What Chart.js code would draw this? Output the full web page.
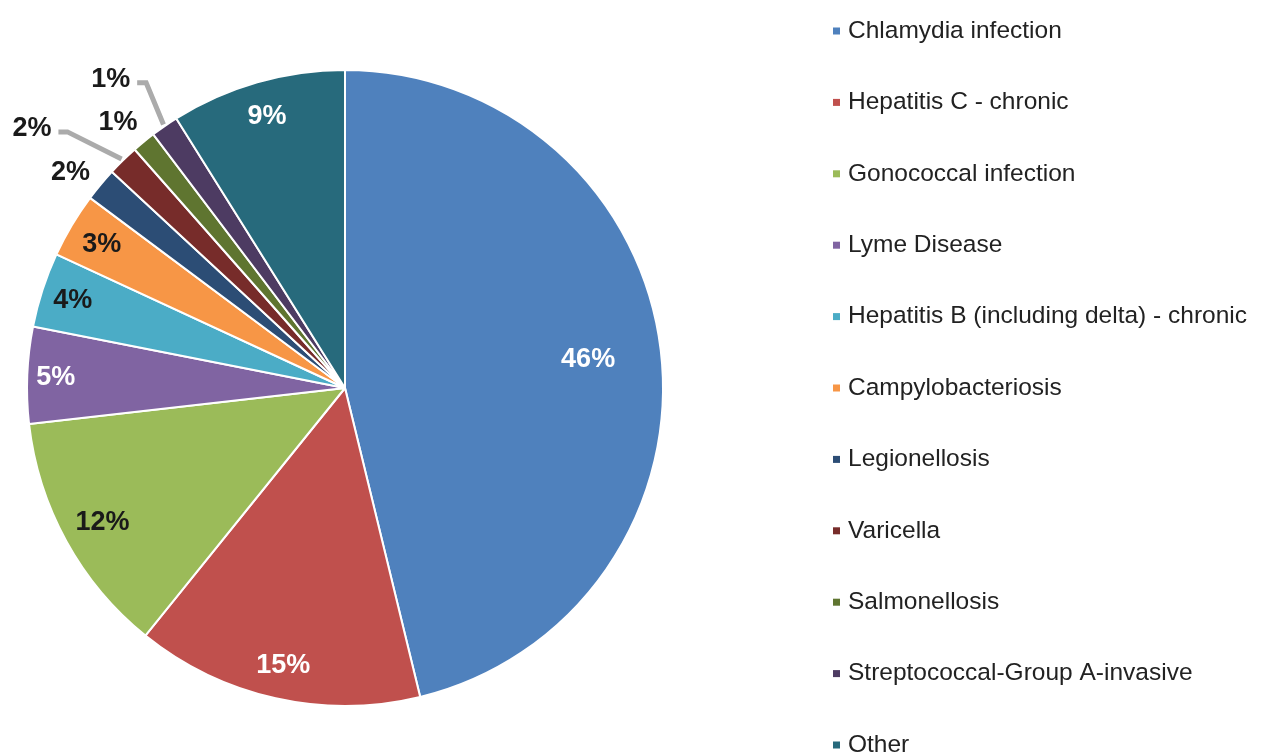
<!DOCTYPE html>
<html>
<head>
<meta charset="utf-8">
<script src="https://cdn.jsdelivr.net/npm/chart.js@4"></script>
<style>
  html, body { margin: 0; padding: 0; background: #fff; }
  #wrap { width: 1264px; height: 752px; position: relative; }
</style>
</head>
<body>
<div id="wrap"><canvas id="pieChart" width="1264" height="752"></canvas></div>
<script>
// chart data
const categories = [
  'Chlamydia infection',
  'Hepatitis C - chronic',
  'Gonococcal infection',
  'Lyme Disease',
  'Hepatitis B (including delta) - chronic',
  'Campylobacteriosis',
  'Legionellosis',
  'Varicella',
  'Salmonellosis',
  'Streptococcal-Group A-invasive',
  'Other'
];
const shares = [46.2, 14.6, 12.4, 4.9, 3.8, 3.3, 1.7, 1.6, 1.2, 1.4, 8.9];
const sliceColors = ['#4F81BD', '#C0504D', '#9BBB59', '#8064A2', '#4BACC6', '#F79646',
                     '#2C4D75', '#772C2A', '#5F7530', '#4D3B62', '#276A7C'];

// label placement (fraction of radius, angle shift in degrees, text colour)
const labelRadius = [0.77, 0.89, 0.87, 0.91, 0.90, 0.89, 1.10, 1.28, 1.10, 1.22, 0.89];
const labelShift = [0, 0, 0, 0, 0, 0, -1.5, -6.0, -1.2, -2.6, 0];
const labelColor = ['#fff', '#fff', '#1a1a1a', '#fff', '#1a1a1a', '#1a1a1a',
                    '#1a1a1a', '#1a1a1a', '#1a1a1a', '#1a1a1a', '#fff'];
const hasLeader = [false, false, false, false, false, false, false, true, false, true, false];

const sliceLabels = {
  id: 'sliceLabels',
  afterDatasetsDraw(chart) {
    const ctx = chart.ctx;
    const arcs = chart.getDatasetMeta(0).data;
    ctx.save();
    ctx.font = 'bold 27px "Liberation Sans", Arial, sans-serif';
    ctx.textAlign = 'center';
    ctx.textBaseline = 'middle';
    arcs.forEach((arc, i) => {
      const mid = (arc.startAngle + arc.endAngle) / 2;
      const a = mid + labelShift[i] * Math.PI / 180;
      const r = arc.outerRadius * labelRadius[i];
      const x = arc.x + Math.cos(a) * r;
      const y = arc.y + Math.sin(a) * r;
      const text = Math.round(shares[i]) + '%';
      if (hasLeader[i]) {
        const w = ctx.measureText(text).width;
        const sx = x + w / 2 + 7, sy = y + 4;
        const ex = arc.x + Math.cos(mid) * (arc.outerRadius + 2);
        const ey = arc.y + Math.sin(mid) * (arc.outerRadius + 2);
        ctx.strokeStyle = '#ABABAB';
        ctx.lineWidth = 5;
        ctx.beginPath();
        ctx.moveTo(sx, sy);
        ctx.lineTo(sx + 9, sy);
        ctx.lineTo(ex, ey);
        ctx.stroke();
      }
      ctx.fillStyle = labelColor[i];
      ctx.fillText(text, x, y + 1);
    });
    ctx.restore();
  }
};

const sideLegend = {
  id: 'sideLegend',
  afterDraw(chart) {
    const ctx = chart.ctx;
    ctx.save();
    ctx.font = '24.5px "Liberation Sans", Arial, sans-serif';
    ctx.textBaseline = 'middle';
    ctx.textAlign = 'left';
    categories.forEach((name, i) => {
      const y = 31 + i * 71.4;
      ctx.fillStyle = sliceColors[i];
      ctx.fillRect(833, y - 3.5, 7, 7);
      ctx.fillStyle = '#222222';
      ctx.fillText(name, 848, y);
    });
    ctx.restore();
  }
};

const ctx = document.getElementById('pieChart').getContext('2d');
const myChart = new Chart(ctx, {
  type: 'pie',
  data: {
    labels: categories,
    datasets: [{
      data: shares,
      backgroundColor: sliceColors,
      borderColor: '#ffffff',
      borderWidth: 2
    }]
  },
  options: {
    responsive: false,
    animation: false,
    layout: { padding: { left: 26, right: 600, top: 69, bottom: 45 } },
    plugins: {
      legend: { display: false },
      tooltip: { enabled: false }
    }
  },
  plugins: [sliceLabels, sideLegend]
});
</script>
</body>
</html>
